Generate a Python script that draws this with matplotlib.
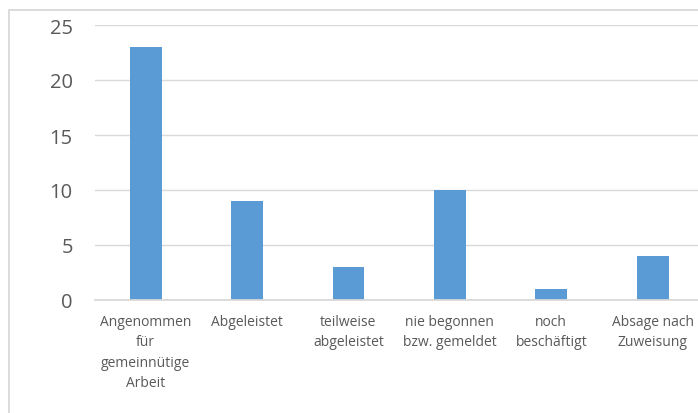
import matplotlib
matplotlib.use("Agg")
import matplotlib.pyplot as plt
from matplotlib.patches import Rectangle

# category labels and counts
categories = [
    "Angenommen\nfür\ngemeinnütige\nArbeit",
    "Abgeleistet",
    "teilweise\nabgeleistet",
    "nie begonnen\nbzw. gemeldet",
    "noch\nbeschäftigt",
    "Absage nach\nZuweisung",
]
counts = [23, 9, 3, 10, 1, 4]
y_ticks = [0, 5, 10, 15, 20, 25]

BAR = "#5b9bd5"
GRID = "#d9d9d9"
TEXT = "#595959"

plt.rcParams["font.family"] = ["Open Sans", "DejaVu Sans"]

fig = plt.figure(figsize=(6.98, 4.14), dpi=100)
ax = fig.add_axes([95 / 698, 1 - 301 / 414, (698 - 95) / 698, (301 - 26) / 414])

x = list(range(len(categories)))
ax.bar(x, counts, width=0.315, color=BAR, zorder=3)

ax.set_ylim(0, 25)
ax.set_xlim(-0.5, -0.5 + 603 / 101.4)
ax.set_yticks(y_ticks)
ax.set_yticklabels([str(v) for v in y_ticks], fontsize=14.5, color=TEXT)
ax.set_xticks(x)
ax.set_xticklabels(categories, fontsize=10, color=TEXT, linespacing=1.5, va="top")
ax.tick_params(axis="both", length=0)
ax.tick_params(axis="y", pad=16)
ax.tick_params(axis="x", pad=10)

ax.grid(axis="y", color=GRID, lw=1, zorder=0)
for side in ["top", "right", "left"]:
    ax.spines[side].set_visible(False)
ax.spines["bottom"].set_color(GRID)
ax.spines["bottom"].set_linewidth(1.3)
ax.spines["bottom"].set_zorder(4)

# chart frame like the Excel chart area (cropped at right and bottom)
fig.patches.append(Rectangle((8.5 / 698, -0.1), 1.0, 1.1 - 11.5 / 414,
                             transform=fig.transFigure, fill=False,
                             edgecolor=GRID, lw=1.3))

fig.savefig("out.png", dpi=100)
